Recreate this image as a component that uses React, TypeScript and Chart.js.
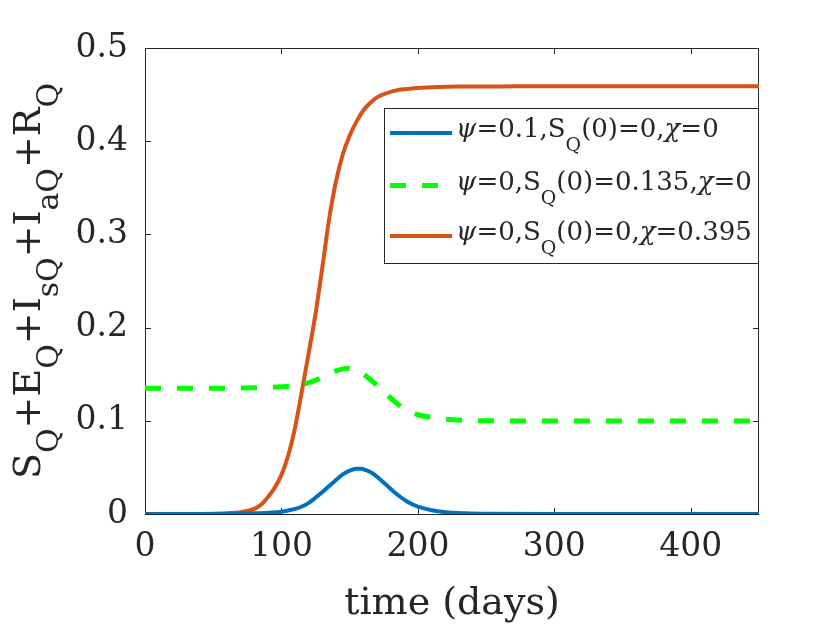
import React, { useEffect, useRef } from 'react';
import Chart from 'chart.js/auto';

// readings taken off the figure (days -> fraction)
const blueDays = [0, 50, 80, 100, 110, 115, 120, 125, 130, 135, 140, 145, 150, 155, 158, 162, 167, 172, 177, 182, 187, 193, 200, 210, 220, 235, 250, 300, 450];
const blueVals = [0, 0, 0.0007, 0.0025, 0.0055, 0.008, 0.012, 0.0175, 0.0235, 0.03, 0.0365, 0.0425, 0.0465, 0.0485, 0.0485, 0.047, 0.0435, 0.0375, 0.031, 0.0245, 0.0185, 0.0125, 0.0078, 0.004, 0.002, 0.0008, 0.0003, 0, 0];

const greenDays = [0, 50, 90, 100, 110, 118, 125, 130, 135, 140, 145, 149, 153, 157, 161, 165, 170, 175, 180, 187, 193, 200, 210, 220, 235, 260, 300, 450];
const greenVals = [0.135, 0.135, 0.1357, 0.1365, 0.1378, 0.14, 0.1435, 0.1465, 0.15, 0.1535, 0.1557, 0.1563, 0.1555, 0.153, 0.149, 0.1445, 0.138, 0.131, 0.1245, 0.116, 0.1105, 0.1065, 0.1035, 0.1017, 0.1005, 0.0999, 0.0998, 0.0998];

const orangeDays = [0, 30, 50, 60, 70, 80, 85, 90, 95, 100, 105, 110, 115, 120, 125, 130, 135, 140, 145, 150, 155, 160, 165, 170, 180, 190, 200, 215, 230, 260, 300, 450];
const orangeVals = [0, 0, 0.0003, 0.0008, 0.002, 0.0055, 0.01, 0.018, 0.028, 0.042, 0.063, 0.093, 0.132, 0.173, 0.215, 0.265, 0.317, 0.357, 0.386, 0.406, 0.421, 0.433, 0.441, 0.447, 0.453, 0.4558, 0.4572, 0.4582, 0.4586, 0.4588, 0.459, 0.459];

// rich text pieces: [text, kind]  kind: 's' subscript, 'i' italic
type Seg = [string, string?];
const legendRows: Seg[][] = [
  [['ψ', 'i'], ['=0.1,S'], ['Q', 's'], ['(0)=0,'], ['χ', 'i'], ['=0']],
  [['ψ', 'i'], ['=0,S'], ['Q', 's'], ['(0)=0.135,'], ['χ', 'i'], ['=0']],
  [['ψ', 'i'], ['=0,S'], ['Q', 's'], ['(0)=0,'], ['χ', 'i'], ['=0.395']],
];
const yTitle: Seg[] = [['S'], ['Q', 's'], ['+E'], ['Q', 's'], ['+I'], ['sQ', 's'], ['+I'], ['aQ', 's'], ['+R'], ['Q', 's']];
const xTitle = 'time (days)';

const FAMILY = '"DejaVu Serif", serif';
const INK = '#262626';
const BLUE = '#0072BD';
const GREEN = '#00FF00';
const ORANGE = '#D95319';

const zip = (xs: number[], ys: number[]) => xs.map((x, i) => ({ x, y: ys[i] }));

function drawRich(ctx: CanvasRenderingContext2D, segs: Seg[], x: number, y: number, main: number, sub: number, dy: number, measureOnly = false) {
  let w = 0;
  for (const [t, k] of segs) {
    const size = k === 's' ? sub : main;
    ctx.font = `${k === 'i' ? 'italic ' : ''}${size}px ${FAMILY}`;
    const m = ctx.measureText(t).width;
    if (!measureOnly) ctx.fillText(t, x + w, y + (k === 's' ? dy : 0));
    w += m;
  }
  return w;
}

const decorPlugin = {
  id: 'decor',
  beforeDatasetsDraw(chart: any) {
    const { ctx, chartArea: a, scales } = chart;
    ctx.save();
    ctx.strokeStyle = INK;
    ctx.lineWidth = 1;
    ctx.beginPath();
    ctx.rect(a.left + 0.5, a.top + 0.5, a.right - a.left - 1, a.bottom - a.top);
    const tl = 6;
    scales.x.ticks.forEach((t: any) => {
      const px = Math.round(scales.x.getPixelForValue(t.value)) + 0.5;
      ctx.moveTo(px, a.bottom); ctx.lineTo(px, a.bottom - tl);
      ctx.moveTo(px, a.top); ctx.lineTo(px, a.top + tl);
    });
    scales.y.ticks.forEach((t: any) => {
      const py = Math.round(scales.y.getPixelForValue(t.value)) + 0.5;
      ctx.moveTo(a.left, py); ctx.lineTo(a.left + tl, py);
      ctx.moveTo(a.right, py); ctx.lineTo(a.right - tl, py);
    });
    ctx.stroke();
    ctx.restore();
  },
  afterDraw(chart: any) {
    const { ctx, chartArea: a } = chart;
    ctx.save();
    ctx.fillStyle = INK;
    ctx.textBaseline = 'alphabetic';

    // y title, rotated, with subscripts
    const main = 38, sub = 30;
    const total = drawRich(ctx, yTitle, 0, 0, main, sub, 18, true);
    ctx.translate(40, (a.top + a.bottom) / 2);
    ctx.rotate(-Math.PI / 2);
    drawRich(ctx, yTitle, -total / 2, 0, main, sub, 18);
    ctx.setTransform(chart.currentDevicePixelRatio, 0, 0, chart.currentDevicePixelRatio, 0, 0);

    // x title
    ctx.font = `38px ${FAMILY}`;
    ctx.textAlign = 'center';
    ctx.fillText(xTitle, (a.left + a.right) / 2, 614);
    ctx.textAlign = 'left';

    // legend
    const lx = 384, ly = 108, lw = a.right - lx, lh = 155;
    ctx.fillStyle = '#fff';
    ctx.fillRect(lx, ly, lw, lh);
    ctx.strokeStyle = INK;
    ctx.lineWidth = 1;
    ctx.strokeRect(lx + 0.5, ly + 0.5, lw - 1, lh);
    const rowY = [25, 77.5, 128];
    const colors = [BLUE, GREEN, ORANGE];
    legendRows.forEach((segs, i) => {
      const y = ly + rowY[i];
      ctx.save();
      ctx.strokeStyle = colors[i];
      ctx.lineWidth = i === 1 ? 5 : 4;
      if (i === 1) ctx.setLineDash([16, 16]);
      ctx.beginPath();
      ctx.moveTo(390, y); ctx.lineTo(452, y);
      ctx.stroke();
      ctx.restore();
      ctx.fillStyle = INK;
      drawRich(ctx, segs, 456, y + 4, 26, 19, 14);
    });
    ctx.restore();
  },
};

export default function App() {
  const canvasRef = useRef<HTMLCanvasElement>(null);

  useEffect(() => {
    if (!canvasRef.current) return;
    const tickFont = { family: FAMILY, size: 33 };
    const chart = new Chart(canvasRef.current, {
      type: 'line',
      data: {
        datasets: [
          { label: 'blue', data: zip(blueDays, blueVals), borderColor: BLUE, borderWidth: 4, pointRadius: 0, cubicInterpolationMode: 'monotone' },
          { label: 'green', data: zip(greenDays, greenVals), borderColor: GREEN, borderWidth: 5, borderDash: [16, 16], pointRadius: 0, cubicInterpolationMode: 'monotone' },
          { label: 'orange', data: zip(orangeDays, orangeVals), borderColor: ORANGE, borderWidth: 4, pointRadius: 0, cubicInterpolationMode: 'monotone' },
        ],
      },
      options: {
        responsive: true,
        maintainAspectRatio: false,
        animation: false,
        layout: { padding: { top: 48, right: 81, left: 0, bottom: 0 } },
        plugins: { legend: { display: false }, tooltip: { enabled: false } },
        scales: {
          x: {
            type: 'linear', min: 0, max: 450,
            grid: { display: false, drawTicks: false },
            border: { display: false },
            ticks: { stepSize: 100, includeBounds: false, font: tickFont, color: INK, padding: 14, maxRotation: 0 },
            afterFit: (s: any) => { s.height = 116; },
          },
          y: {
            type: 'linear', min: 0, max: 0.5,
            grid: { display: false, drawTicks: false },
            border: { display: false },
            ticks: { stepSize: 0.1, font: tickFont, color: INK, padding: 17, callback: (v: any) => String(Number(Number(v).toFixed(1))) },
            afterFit: (s: any) => { s.width = 145; },
          },
        },
      },
      plugins: [decorPlugin],
    } as any);
    return () => chart.destroy();
  }, []);

  return (
    <div style={{ position: 'fixed', left: 0, top: 0, width: 840, height: 630, background: '#fff' }}>
      <canvas ref={canvasRef} />
    </div>
  );
}
